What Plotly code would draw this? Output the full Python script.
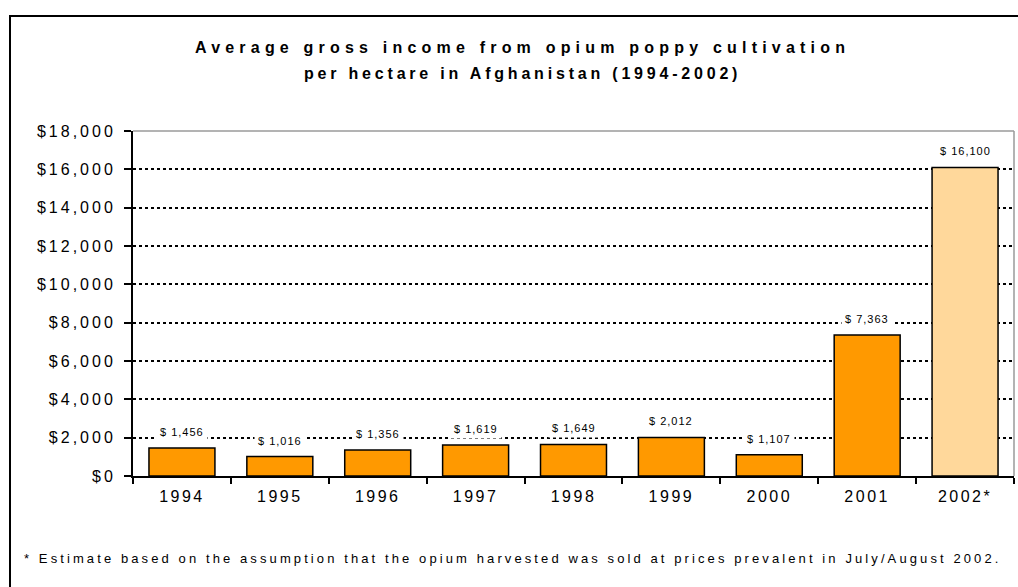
import plotly.graph_objects as go

# Data
years = ["1994", "1995", "1996", "1997", "1998", "1999", "2000", "2001", "2002*"]
income = [1456, 1016, 1356, 1619, 1649, 2012, 1107, 7363, 16100]
bar_colors = ["#FF9900"] * 8 + ["#FFD89B"]
y_ticks = [0, 2000, 4000, 6000, 8000, 10000, 12000, 14000, 16000, 18000]

title_lines = [
    "Average gross income from opium poppy cultivation",
    "per hectare in Afghanistan (1994-2002)",
]
footnote = ("* Estimate based on the assumption that the opium harvested was "
            "sold at prices prevalent in July/August 2002.")

FONT = "Arial, 'Liberation Sans', sans-serif"


def spaced(text, px):
    return f'<span style="letter-spacing:{px}px">{text}</span>'


# Plot area geometry (pixels) used to place the paper-referenced extras
W, H = 1018, 587
L, R, T, B = 133, 4, 131, 111
PW, PH = W - L - R, H - T - B


def px_x(x):
    return (x - L) / PW


def px_y(y):
    return (H - B - y) / PH


fig = go.Figure(
    go.Bar(
        x=years,
        y=income,
        marker=dict(color=bar_colors, line=dict(color="black", width=1.5)),
        hoverinfo="x+y",
    )
)

# Value labels above each bar, on a white box that breaks the gridlines.
# On a category axis a numeric x is the category's index.
for i, v in enumerate(income):
    fig.add_annotation(
        x=i, y=v, xref="x", yref="y",
        text=spaced(f"$ {v:,}", 1),
        showarrow=False,
        yanchor="middle", yshift=16,
        bgcolor="white", borderpad=3,
        font=dict(family=FONT, size=11, color="black"),
    )

fig.update_layout(
    width=W,
    height=H,
    margin=dict(l=L, r=R, t=T, b=B),
    paper_bgcolor="white",
    plot_bgcolor="white",
    showlegend=False,
    bargap=0.326,
    font=dict(family=FONT, color="black"),
)

fig.update_xaxes(
    type="category",
    range=[-0.5, len(years) - 0.5],
    tickmode="array",
    tickvals=years,
    ticktext=[spaced(y, 2.5) for y in years],
    tickfont=dict(size=16, color="black"),
    tickson="boundaries",
    ticks="outside",
    ticklen=6,
    tickwidth=1.5,
    tickcolor="black",
    ticklabelstandoff=5,
    showline=True,
    linecolor="black",
    linewidth=2,
    showgrid=False,
    zeroline=False,
)

fig.update_yaxes(
    range=[0, 18000],
    tickmode="array",
    tickvals=y_ticks,
    ticktext=[spaced(f"${v:,}", 3) for v in y_ticks],
    tickfont=dict(size=16, color="black"),
    ticks="outside",
    ticklen=7,
    tickwidth=1.5,
    tickcolor="black",
    ticklabelstandoff=5,
    showline=True,
    linecolor="black",
    linewidth=2,
    showgrid=True,
    gridcolor="black",
    gridwidth=1.8,
    griddash="3px,3px",
    zeroline=False,
)

# Grey frame on the top and right of the plot area, plus the outer chart border
fig.add_shape(type="line", xref="paper", yref="paper", x0=0, x1=1, y0=1, y1=1,
              line=dict(color="#9a9a9a", width=1.5), layer="below")
fig.add_shape(type="line", xref="paper", yref="paper", x0=1, x1=1, y0=0, y1=1,
              line=dict(color="#9a9a9a", width=1.5), layer="below")
fig.add_shape(type="rect", xref="paper", yref="paper",
              x0=px_x(10), x1=px_x(1040), y0=px_y(16), y1=px_y(620),
              line=dict(color="black", width=2), fillcolor="rgba(0,0,0,0)")

# Two-line title
for line, y, sp in zip(title_lines, [47, 73], [5.2, 3.8]):
    fig.add_annotation(
        text=f"<b>{spaced(line, sp)}</b>",
        xref="paper", yref="paper",
        x=px_x(522), y=px_y(y),
        xanchor="center", yanchor="middle",
        showarrow=False,
        font=dict(family=FONT, size=16, color="black"),
    )

fig.add_annotation(
    text=spaced(footnote, 3.1),
    xref="paper", yref="paper",
    x=px_x(22), y=px_y(558),
    xanchor="left", yanchor="middle",
    showarrow=False,
    font=dict(family=FONT, size=13, color="black"),
)

fig.write_html("out.html")
